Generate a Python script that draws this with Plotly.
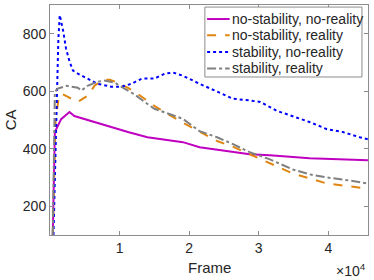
import plotly.graph_objects as go

# --- data ---
x_m = [400, 550, 700, 1600, 2800, 3500, 5000, 6400, 8800, 11200, 14000, 17000, 19100, 21500, 26300, 28700, 31600, 37300, 45700]
y_m = [100, 330, 458, 503, 528, 514, 503, 493, 475, 458, 440, 430, 423, 405, 388, 381, 377, 367, 360]

x_b = [500, 900, 1200, 1400, 1900, 2300, 2800, 3300, 4000, 5400, 6800, 8800, 10300, 11700, 13200, 15000, 16500, 17700, 19100, 21500, 24000, 26300, 28700, 30200, 32600, 34900, 37300, 39800, 42100, 44500, 45700]
y_b = [100, 500, 780, 865, 809, 749, 704, 672, 661, 644, 626, 616, 616, 626, 644, 644, 661, 665, 654, 626, 598, 574, 568, 563, 532, 514, 493, 468, 458, 440, 433]

x_o = [400, 800, 1300, 1800, 2500, 4000, 5400, 6400, 7600, 8600, 9700, 11200, 12600, 14000, 15000, 18600, 22200, 24100, 26100, 28000, 29700, 32600, 34900, 37300, 39800, 42100, 45700]
y_o = [100, 500, 585, 590, 581, 563, 584, 619, 640, 640, 630, 612, 591, 567, 549, 497, 451, 426, 409, 388, 370, 339, 314, 297, 279, 272, 261]

x_g = [400, 700, 1100, 2400, 4000, 4500, 5400, 6800, 7800, 9300, 10700, 12200, 13600, 15000, 19100, 21500, 24000, 26300, 28700, 31600, 34900, 37300, 39800, 42100, 45700]
y_g = [100, 598, 609, 619, 612, 602, 619, 633, 637, 630, 609, 588, 563, 539, 504, 461, 440, 416, 388, 363, 328, 311, 300, 293, 279]

names = ["no-stability, no-reality", "no-stability, reality", "stability, no-reality", "stability, reality"]
x_tickvals = [10000, 20000, 30000, 40000]
x_ticktext = ["1", "2", "3", "4"]
y_tickvals = [200, 400, 600, 800]

colors = ["#C000C0", "#E0850F", "#0000FF", "#808080"]
dashes = ["solid", "dash", "dot", "dashdot"]
series_x = [x_m, x_o, x_b, x_g]
series_y = [y_m, y_o, y_b, y_g]

fig = go.Figure()
for xs, ys, nm, c, d in zip(series_x, series_y, names, colors, dashes):
    fig.add_trace(go.Scatter(x=xs, y=ys, mode="lines", name=nm, showlegend=False,
                             line=dict(color=c, width=2, dash=d)))

axis_common = dict(showline=True, mirror="ticks", linecolor="#8c8c8c", linewidth=1,
                   ticks="inside", ticklen=4, tickcolor="#8c8c8c", showgrid=False,
                   zeroline=False, tickfont=dict(size=14, color="#262626"))

# custom MATLAB-like legend (paper coordinates)
shapes = [dict(type="rect", xref="paper", yref="paper", x0=0.487, x1=0.981, y0=0.687, y1=0.991,
               fillcolor="white", line=dict(color="#8c8c8c", width=1), layer="above")]
annotations = []
row_y = [0.939, 0.868, 0.796, 0.724]
for ry, nm, c, d in zip(row_y, names, colors, dashes):
    shapes.append(dict(type="line", xref="paper", yref="paper", x0=0.494, x1=0.565, y0=ry, y1=ry,
                       line=dict(color=c, width=2, dash=d), layer="above"))
    annotations.append(dict(text=nm, xref="paper", yref="paper", x=0.567, y=ry, showarrow=False,
                            xanchor="left", yanchor="middle",
                            font=dict(size=14, color="#262626")))

annotations += [
    dict(text="CA", xref="paper", yref="paper", x=-0.125, y=0.5, showarrow=False,
         textangle=-90, font=dict(size=15, color="#262626"), xanchor="center", yanchor="middle"),
    dict(text="Frame", xref="paper", yref="paper", x=0.5, y=-0.143, showarrow=False,
         font=dict(size=15, color="#262626"), xanchor="center", yanchor="middle"),
    dict(text="×10<sup>4</sup>", xref="paper", yref="paper", x=1.0, y=-0.105, showarrow=False,
         font=dict(size=14, color="#262626"), xanchor="right", yanchor="top"),
]

fig.update_layout(
    width=374, height=280,
    margin=dict(l=50, r=6, t=5, b=45),
    paper_bgcolor="white", plot_bgcolor="white",
    font=dict(family="Liberation Sans, Arial, sans-serif", color="#262626"),
    xaxis=dict(range=[0, 45700], tickvals=x_tickvals, ticktext=x_ticktext, **axis_common),
    yaxis=dict(range=[100, 900], tickvals=y_tickvals, **axis_common),
    showlegend=False,
    shapes=shapes,
    annotations=annotations,
)

fig.write_html("out.html", config={"displayModeBar": False},
               post_script="document.body.style.margin='0';")
